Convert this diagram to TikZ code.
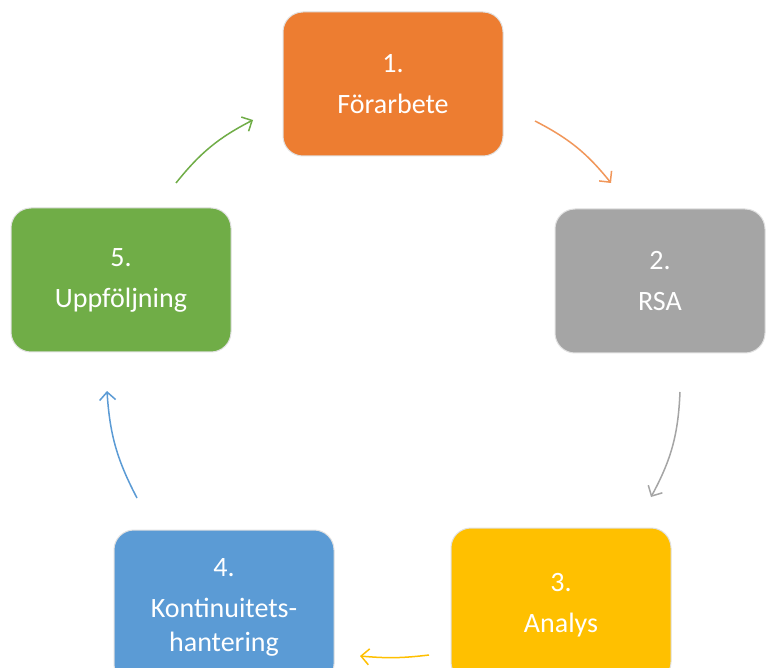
\documentclass[tikz,border=0pt]{standalone}
\usepackage{fontspec}
\setmainfont{Carlito}
\usetikzlibrary{arrows.meta}
\definecolor{cOrange}{HTML}{ED7D31}
\definecolor{cGray}{HTML}{A5A5A5}
\definecolor{cGold}{HTML}{FFC000}
\definecolor{cBlue}{HTML}{5B9BD5}
\definecolor{cGreen}{HTML}{70AD47}
\begin{document}
\begin{tikzpicture}[x=1pt,y=-1pt,
  box/.style={draw=white!88!black, line width=1pt, rounded corners=20pt,
    text=white, align=center, font=\fontsize{28}{34}\selectfont,
    inner sep=0pt, minimum width=220pt, minimum height=144pt},
  cyc/.style={line width=1.5pt, -{Straight Barb[length=8pt,width=16pt]}}]
\clip (0,0) rectangle (766,668);
\fill[white] (0,0) rectangle (766,668);
\node[box, fill=cOrange] (b1) at (393,84) {1.\\[7pt]Förarbete};
\node[box, fill=cGray, minimum width=210pt] (b2) at (660,281) {2.\\[7pt]RSA};
\node[box, fill=cGold, minimum height=154pt] (b3) at (561,605) {3.\\[7pt]Analys};
\node[box, fill=cBlue, minimum height=154pt] (b4) at (224,607) {4.\\[7pt]Kontinuitets-\\hantering};
\node[box, fill=cGreen] (b5) at (121,280) {5.\\[7pt]Uppföljning};
\coordinate (a1s) at (535,121); \coordinate (a1e) at (611,183);
\coordinate (a2s) at (680,392); \coordinate (a2e) at (651,497);
\coordinate (a3s) at (429,655); \coordinate (a3e) at (360,656);
\coordinate (a4s) at (137,498); \coordinate (a4e) at (107,391);
\coordinate (a5s) at (176,183); \coordinate (a5e) at (253,120);
\draw[cyc, cOrange!80] (a1s) to[bend left=12] (a1e);
\draw[cyc, cGray] (a2s) to[bend left=13] (a2e);
\draw[cyc, cGold] (a3s) to[bend left=6] (a3e);
\draw[cyc, cBlue] (a4s) to[bend left=12] (a4e);
\draw[cyc, cGreen] (a5s) to[bend left=12] (a5e);
\end{tikzpicture}
\end{document}
